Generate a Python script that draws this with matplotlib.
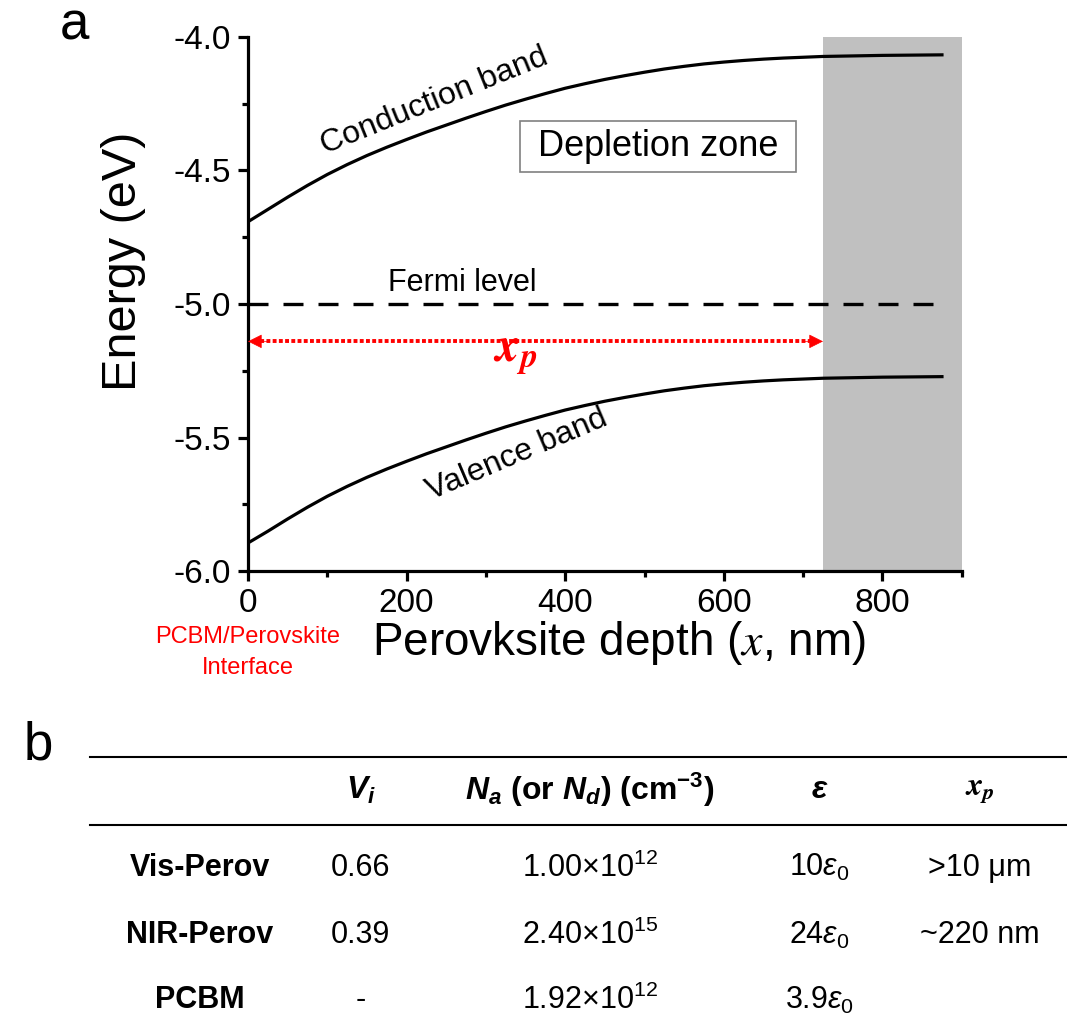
import matplotlib
matplotlib.use("Agg")
import matplotlib.pyplot as plt
from matplotlib.lines import Line2D
from matplotlib.ticker import MultipleLocator

plt.rcParams["font.family"] = ["Liberation Sans", "DejaVu Sans"]
plt.rcParams["mathtext.fontset"] = "custom"
plt.rcParams["mathtext.rm"] = "Liberation Sans"
plt.rcParams["mathtext.it"] = "Liberation Sans:italic"
plt.rcParams["mathtext.bf"] = "Liberation Sans:bold"
plt.rcParams["mathtext.bfit"] = "Liberation Sans:italic:bold"

# band diagram (energies in eV vs depth in nm)
depth = [0, 25, 50, 75, 100, 125, 150, 175, 200, 225, 250, 275, 300, 325, 350, 375,
         400, 425, 450, 475, 500, 525, 550, 575, 600, 625, 650, 675, 700, 725, 800, 875]
cb = [-4.692, -4.646, -4.600, -4.556, -4.515, -4.478, -4.444, -4.413, -4.384, -4.356,
      -4.330, -4.304, -4.279, -4.255, -4.233, -4.212, -4.192, -4.175, -4.159, -4.145,
      -4.132, -4.120, -4.110, -4.101, -4.094, -4.088, -4.083, -4.079, -4.076, -4.073,
      -4.069, -4.067]
vb = [-5.895, -5.851, -5.805, -5.761, -5.720, -5.683, -5.649, -5.618, -5.589, -5.561,
      -5.535, -5.509, -5.484, -5.460, -5.438, -5.417, -5.397, -5.380, -5.364, -5.350,
      -5.337, -5.325, -5.315, -5.306, -5.299, -5.293, -5.288, -5.284, -5.281, -5.278,
      -5.274, -5.272]
fermi = -5.0
fermi_end = 880
xp_depth = 725
xp_energy = -5.14
x_max = 900

# table values
row_names = ["Vis-Perov", "NIR-Perov", "PCBM"]
vi_vals = ["0.66", "0.39", "-"]
na_vals = [r"1.00$\times$10$^{12}$", r"2.40$\times$10$^{15}$", r"1.92$\times$10$^{12}$"]
eps_vals = [r"10$\mathit{\varepsilon}_0$", r"24$\mathit{\varepsilon}_0$", r"3.9$\mathit{\varepsilon}_0$"]
xp_vals = [r">10 μm", "~220 nm", ""]
headers = [r"$\mathbfit{V_i}$",
           r"$\mathbfit{N_a}$ (or $\mathbfit{N_d}$) (cm$^{\mathbf{-3}}$)",
           r"$\mathbfit{\varepsilon}$",
           r"$\mathbfit{x_p}$"]

fig = plt.figure(figsize=(10.67, 10.21), dpi=100)
ax = fig.add_axes([0.2324, 0.4407, 0.6690, 0.5231])

ax.axvspan(xp_depth, x_max, color="#c0c0c0", lw=0, zorder=0)
ax.plot(depth, cb, color="black", lw=2.3, zorder=3)
ax.plot(depth, vb, color="black", lw=2.3, zorder=3)
ax.plot([0, fermi_end], [fermi, fermi], color="black", lw=2.4, dashes=(6, 4.5), zorder=3)

# depletion width arrow
ax.plot([8, xp_depth - 8], [xp_energy, xp_energy], color="red", lw=2.8,
        linestyle=(0, (1.0, 0.6)), zorder=4)
for tip, tail in [(0, 25), (xp_depth, xp_depth - 25)]:
    ax.annotate("", xy=(tip, xp_energy), xytext=(tail, xp_energy),
                arrowprops=dict(arrowstyle="-|>,head_length=0.9,head_width=0.45",
                                color="red", lw=0.5, shrinkA=0, shrinkB=0), zorder=5)
ax.text(337, -5.19, r"$\mathbfit{x_p}$", color="red", fontsize=35,
        math_fontfamily="stix", ha="center", va="center")

ax.text(235, -4.24, "Conduction band", fontsize=23, rotation=22,
        ha="center", va="center")
ax.text(339, -5.565, "Valence band", fontsize=23, rotation=23,
        ha="center", va="center")
ax.text(270, -4.92, "Fermi level", fontsize=22, ha="center", va="center")
ax.text(517, -4.41, " Depletion zone ", fontsize=26, ha="center", va="center",
        bbox=dict(boxstyle="square,pad=0.22", fc="white", ec="#808080", lw=1.2))

ax.set_xlim(0, x_max)
ax.set_ylim(-6.0, -4.0)
ax.xaxis.set_major_locator(MultipleLocator(200))
ax.xaxis.set_minor_locator(MultipleLocator(100))
ax.yaxis.set_major_locator(MultipleLocator(0.5))
ax.yaxis.set_minor_locator(MultipleLocator(0.25))
ax.yaxis.set_major_formatter(plt.FormatStrFormatter("%.1f"))
ax.spines["top"].set_visible(False)
ax.spines["right"].set_visible(False)
for s in ["left", "bottom"]:
    ax.spines[s].set_linewidth(2.3)
ax.tick_params(which="major", length=7, width=2.3, labelsize=24, pad=5)
ax.tick_params(which="minor", length=4, width=2.3)

ax.set_ylabel("Energy (eV)", fontsize=35)
ax.yaxis.set_label_coords(-0.143, 0.58)
ax.set_xlabel(r"Perovksite depth ($\mathit{x}$, nm)", fontsize=33, math_fontfamily="stix")
ax.xaxis.set_label_coords(0.52, -0.09)
fig.canvas.draw()
ax.get_xticklabels()[0].set_color("red")

fig.text(248 / 1067, 1 - 637 / 1021, "PCBM/Perovskite", color="red", fontsize=17,
         ha="center", va="center")
fig.text(248 / 1067, 1 - 668 / 1021, "Interface", color="red", fontsize=17,
         ha="center", va="center")

fig.text(0.07, 0.975, "a", fontsize=38, ha="center", va="center")
fig.text(0.036, 0.27, "b", fontsize=38, ha="center", va="center")

# table b
for y in [0.2586, 0.192]:
    fig.add_artist(Line2D([0.0843, 1.0], [y, y], color="black", lw=1.5))

col_x = [0.187, 0.338, 0.553, 0.768, 0.918]
row_y = [0.150, 0.0842, 0.0206]
for x, h in zip(col_x[1:], headers):
    kw = dict(math_fontfamily="stix") if "x_p" in h else {}
    fig.text(x, 0.2262, h, fontsize=23, fontweight="bold", ha="center", va="center", **kw)
for i, y in enumerate(row_y):
    fig.text(col_x[0], y, row_names[i], fontsize=22, fontweight="bold", ha="center", va="center")
    fig.text(col_x[1], y, vi_vals[i], fontsize=22, ha="center", va="center")
    fig.text(col_x[2], y, na_vals[i], fontsize=22, ha="center", va="center")
    fig.text(col_x[3], y, eps_vals[i], fontsize=22, ha="center", va="center")
    fig.text(col_x[4], y, xp_vals[i], fontsize=22, ha="center", va="center")

fig.savefig("out.png", dpi=100)
